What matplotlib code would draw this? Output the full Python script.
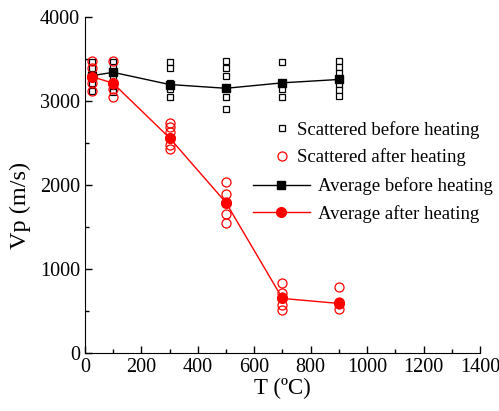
import matplotlib
matplotlib.use('Agg')
import matplotlib.pyplot as plt
from matplotlib.ticker import MultipleLocator

plt.rcParams['font.family'] = ['Liberation Serif', 'DejaVu Serif']

# scattered measurements (temperature, Vp)
before_T = [25, 25, 25, 25, 25,
            100, 100, 100, 100, 100, 100,
            300, 300, 300, 300, 300,
            500, 500, 500, 500, 500, 500,
            700, 700, 700, 700,
            900, 900, 900, 900, 900, 900]
before_vp = [3460, 3390, 3300, 3210, 3120,
             3460, 3400, 3330, 3260, 3160, 3100,
             3460, 3390, 3210, 3140, 3050,
             3470, 3390, 3300, 3150, 3050, 2900,
             3460, 3200, 3140, 3050,
             3470, 3400, 3330, 3200, 3130, 3060]

after_T = [25, 25, 25, 25, 25,
           100, 100, 100, 100,
           300, 300, 300, 300, 300, 300,
           500, 500, 500, 500, 500,
           700, 700, 700, 700, 700,
           900, 900, 900, 900]
after_vp = [3470, 3390, 3300, 3210, 3120,
            3470, 3200, 3140, 3050,
            2740, 2690, 2630, 2560, 2480, 2430,
            2040, 1890, 1800, 1650, 1550,
            830, 710, 670, 570, 510,
            780, 610, 580, 520]

# averages
avg_T = [25, 100, 300, 500, 700, 900]
avg_before = [3300, 3340, 3195, 3150, 3215, 3255]
avg_after = [3290, 3210, 2560, 1790, 650, 590]

fig = plt.figure(figsize=(4.99, 4.11), dpi=100)
ax = fig.add_axes([0.170, 0.141, 0.792, 0.818])

s1, = ax.plot(before_T, before_vp, ls='none', marker='s', ms=5, mfc='white',
              mec='black', mew=0.9, label='Scattered before heating')
s2, = ax.plot(after_T, after_vp, ls='none', marker='o', ms=6.5, mfc='none',
              mec='red', mew=0.9, label='Scattered after heating')
a1, = ax.plot(avg_T, avg_before, color='black', lw=1, marker='s', ms=6,
              label='Average before heating')
a2, = ax.plot(avg_T, avg_after, color='red', lw=1, marker='o', ms=7,
              label='Average after heating')

ax.set_xlim(0, 1400)
ax.set_ylim(0, 4000)
ax.xaxis.set_major_locator(MultipleLocator(200))
ax.xaxis.set_minor_locator(MultipleLocator(100))
ax.yaxis.set_major_locator(MultipleLocator(1000))
ax.yaxis.set_minor_locator(MultipleLocator(500))
ax.tick_params(which='both', direction='in', labelsize=14.5, width=1)
ax.tick_params(which='major', length=5)
ax.tick_params(which='minor', length=3)
ax.spines['top'].set_visible(False)
ax.spines['right'].set_visible(False)

ax.set_xlabel('T (ºC)', fontsize=16.5, labelpad=1)
ax.set_ylabel('Vp (m/s)', fontsize=17.5)
ax.yaxis.set_label_coords(-0.135, 0.44)

leg1 = ax.legend(handles=[s1, s2], loc='upper left', bbox_to_anchor=(0.475, 0.69),
                 frameon=False, fontsize=13.5, borderpad=0, borderaxespad=0,
                 handlelength=1.05, handletextpad=0.28, labelspacing=0.5)
ax.add_artist(leg1)
ax.legend(handles=[a1, a2], loc='upper left', bbox_to_anchor=(0.425, 0.522),
          frameon=False, fontsize=13.5, borderpad=0, borderaxespad=0,
          handlelength=3.05, handletextpad=0.42, labelspacing=0.5)

fig.savefig('out.png', dpi=100)
